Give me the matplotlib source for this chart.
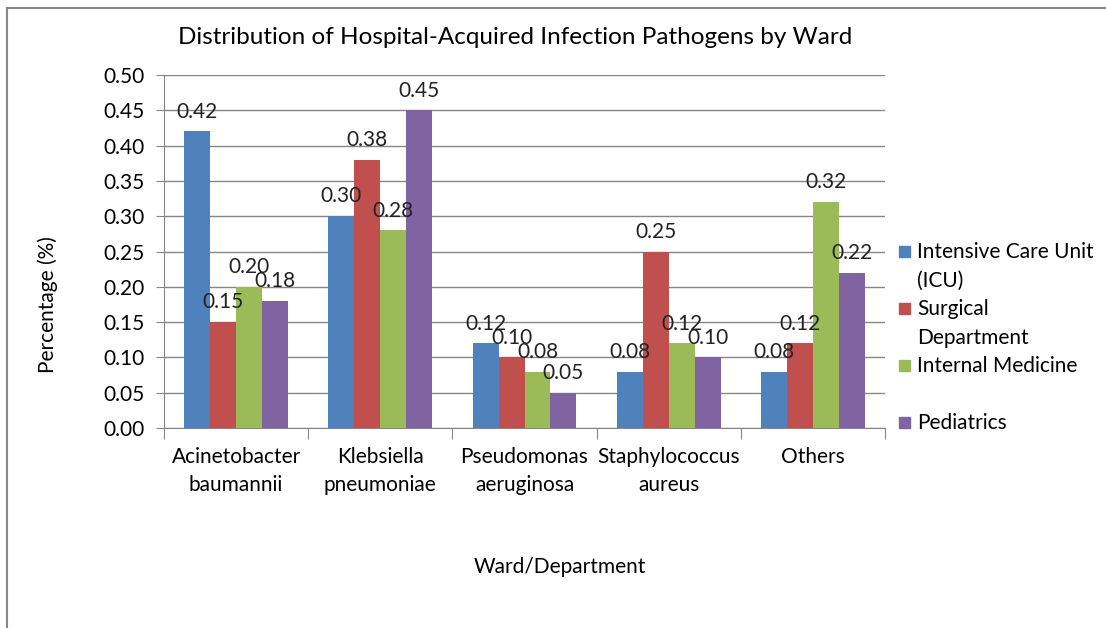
import matplotlib.pyplot as plt
from matplotlib.patches import Rectangle
from matplotlib.lines import Line2D
import numpy as np

plt.rcParams['font.family'] = ['Lato', 'DejaVu Sans']

pathogens = ["Acinetobacter\nbaumannii", "Klebsiella\npneumoniae", "Pseudomonas\naeruginosa",
             "Staphylococcus\naureus", "Others"]
wards = ["Intensive Care Unit\n(ICU)", "Surgical\nDepartment", "Internal Medicine\n", "Pediatrics"]
icu = [0.42, 0.30, 0.12, 0.08, 0.08]
surgical = [0.15, 0.38, 0.10, 0.25, 0.12]
internal = [0.20, 0.28, 0.08, 0.12, 0.32]
pediatrics = [0.18, 0.45, 0.05, 0.10, 0.22]
colors = ["#4f81bd", "#c0504d", "#9bbb59", "#8064a2"]

series = [icu, surgical, internal, pediatrics]
fs = 15

fig = plt.figure(figsize=(11.06, 6.28), dpi=100)
ax = fig.add_axes([164 / 1106, 1 - 428 / 628, (885 - 164) / 1106, (428 - 75) / 628])

x = np.arange(len(pathogens))
w = 0.18
for i, (vals, c) in enumerate(zip(series, colors)):
    pos = x + (i - 1.5) * w
    ax.bar(pos, vals, width=w, color=c, zorder=2)
    for p, v in zip(pos, vals):
        ax.annotate(f"{v:.2f}", (p, v), xytext=(0, 7), textcoords="offset points",
                    ha="center", va="bottom", fontsize=fs, color="#222222", zorder=3)

ax.set_xlim(-0.5, len(pathogens) - 0.5)
ax.set_ylim(0, 0.5)
ticks = np.arange(0, 0.51, 0.05)
ax.set_yticks(ticks)
ax.set_yticklabels([f"{t:.2f}" for t in ticks], fontsize=fs)
ax.yaxis.grid(True, color="#868686", linewidth=1, zorder=0)
ax.set_axisbelow(True)

ax.set_xticks(np.arange(-0.5, len(pathogens), 1.0))
ax.set_xticklabels([])
ax.set_xticks(x, minor=True)
ax.set_xticklabels(pathogens, minor=True, fontsize=fs, linespacing=1.45)
ax.tick_params(axis="x", which="minor", length=0, pad=14)
ax.tick_params(axis="x", which="major", length=8, color="#868686")
ax.tick_params(axis="y", length=6, color="#868686", pad=8)

for s in ["top", "right"]:
    ax.spines[s].set_visible(False)
for s in ["left", "bottom"]:
    ax.spines[s].set_color("#868686")

fig.text(48 / 1106, 1 - 305 / 628, "Percentage (%)", rotation=90, ha="center", va="center", fontsize=fs)
fig.text(560 / 1106, 1 - 567 / 628, "Ward/Department", ha="center", va="center", fontsize=fs)
fig.text(515 / 1106, 1 - 38 / 628, "Distribution of Hospital-Acquired Infection Pathogens by Ward",
         ha="center", va="center", fontsize=17.5)

# legend
line_h = 28.5
y0 = 252
rows = [0, 2, 4, 6]
for lbl, c, r in zip(wards, colors, rows):
    yc = y0 + r * line_h
    fig.patches.append(Rectangle((899 / 1106, 1 - (yc + 5) / 628), 11 / 1106, 11 / 628,
                                 transform=fig.transFigure, color=c))
    for k, part in enumerate(lbl.split("\n")):
        if part:
            fig.text(917 / 1106, 1 - (yc + k * line_h) / 628, part, ha="left", va="center", fontsize=fs)

# outer border
fig.add_artist(Line2D([7 / 1106, 7 / 1106], [0, 1 - 8 / 628], transform=fig.transFigure,
                      color="#868686", linewidth=1.5))
fig.add_artist(Line2D([7 / 1106, 1], [1 - 8 / 628, 1 - 8 / 628], transform=fig.transFigure,
                      color="#868686", linewidth=1.5))

fig.savefig("out.png", dpi=100)
